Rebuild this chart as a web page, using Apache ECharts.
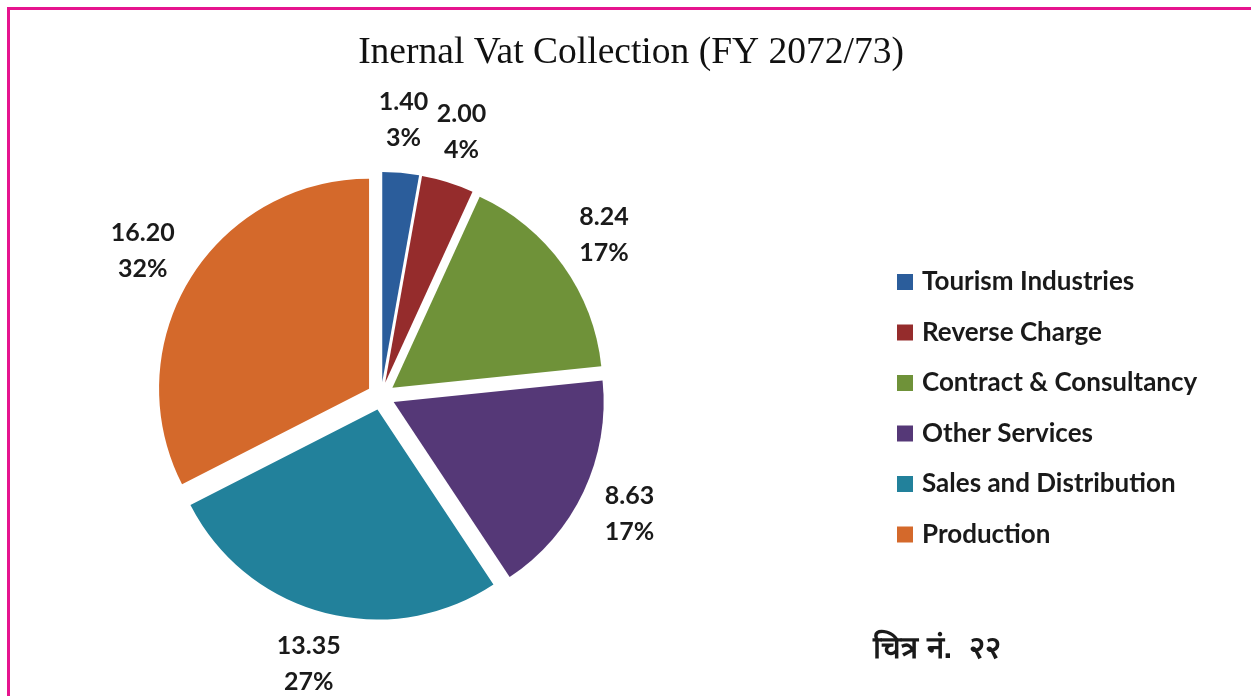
<!DOCTYPE html>
<html>
<head>
<meta charset="utf-8">
<script src="https://cdn.jsdelivr.net/npm/echarts@6/dist/echarts.min.js"></script>
<style>
  html, body { margin: 0; padding: 0; background: #fff; }
  #chart { width: 1251px; height: 696px; }
</style>
</head>
<body>
<div id="chart"></div>
<script>
// data
const categories = ['Tourism Industries', 'Reverse Charge', 'Contract & Consultancy', 'Other Services', 'Sales and Distribution', 'Production'];
const values = [1.40, 2.00, 8.24, 8.63, 13.35, 16.20];
const pctLabels = ['3%', '4%', '17%', '17%', '27%', '32%'];
const colors = ['#2b5d9b', '#952c2c', '#6f9239', '#553877', '#22819b', '#d4692b'];

const chart = echarts.init(document.getElementById('chart'));

const pieData = categories.map((name, i) => ({
    name: name,
    value: values[i],
    selected: true, // every slice pulled out a bit (exploded pie)
    itemStyle: { color: colors[i] }
}));

chart.setOption({
    animation: false,
    backgroundColor: '#fff',
    title: {
        text: 'Inernal Vat Collection (FY 2072/73)',
        left: 626,
        top: 29,
        textAlign: 'center',
        textStyle: {
            fontFamily: 'Liberation Serif',
            fontWeight: 'normal',
            fontSize: 37.5,
            color: '#111'
        }
    },
    legend: {
        orient: 'vertical',
        left: 897,
        top: 268,
        padding: 0,
        icon: 'rect',
        itemWidth: 16,
        itemHeight: 16,
        itemGap: 22.5,
        selectedMode: false,
        data: categories,
        textStyle: {
            fontFamily: 'Lato',
            fontWeight: 'bold',
            fontSize: 26,
            lineHeight: 28,
            color: '#1a1a1a',
            padding: [0, 0, 0, 4]
        }
    },
    graphic: [
        // pink page frame (runs off the right and bottom edge)
        {
            type: 'rect',
            shape: { x: 8.5, y: 8.5, width: 1400, height: 900 },
            style: { fill: null, stroke: '#e6148e', lineWidth: 3 },
            silent: true
        },
        {
            type: 'text',
            left: 873,
            top: 634,
            style: {
                text: 'चित्र नं.  २२',
                fontSize: 31,
                fontWeight: 'bold',
                fill: '#1a1a1a'
            }
        }
    ],
    series: [{
        type: 'pie',
        center: [381, 396],
        radius: 210,
        startAngle: 90,
        selectedMode: 'multiple',
        selectedOffset: 14,
        avoidLabelOverlap: false,
        emphasis: { disabled: true },
        data: pieData,
        label: {
            show: true,
            position: 'outside',
            formatter: p => p.value.toFixed(2) + '\n' + pctLabels[p.dataIndex],
            fontFamily: 'Lato',
            fontWeight: 'bold',
            fontSize: 25,
            lineHeight: 36,
            color: '#1a1a1a',
            distanceToLabelLine: 0
        },
        labelLine: { show: false, length: 53, length2: 0 },
        labelLayout: () => ({ align: 'center', verticalAlign: 'middle', dx: -2 })
    }]
});
</script>
</body>
</html>
